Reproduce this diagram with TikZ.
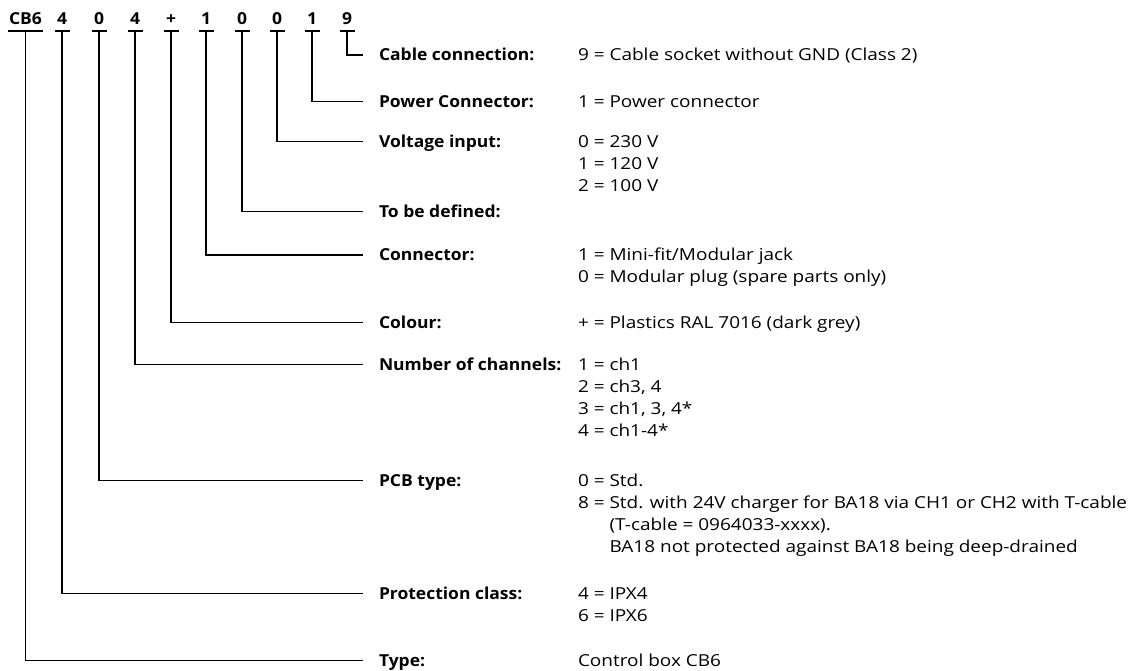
\documentclass[tikz,border=0pt]{standalone}
\usepackage{fontspec}
\setmainfont{Open Sans}[FakeStretch=1.15, BoldFeatures={FakeStretch=1.06}]
\usetikzlibrary{calc}
\newcommand{\vlines}[1]{\begin{tabular}[t]{@{}l@{}}#1\end{tabular}}
\begin{document}
\begin{tikzpicture}[x=1pt,y=-1pt,
  every node/.style={inner sep=0pt, outer sep=0pt, font=\fontsize{16.5}{22}\selectfont},
  code/.style={font=\fontsize{16.5}{22}\selectfont\bfseries, anchor=base, minimum width=15pt},
  lab/.style={font=\fontsize{16.5}{22}\selectfont\bfseries, anchor=base west},
  val/.style={anchor=base west},
  conn/.style={line width=1.2pt, black},
  uline/.style={line width=2.2pt, black}]
\useasboundingbox (0,0) rectangle (1136,671);
% code characters
\node[code, minimum width=35pt] (c0) at (25.5,25) {CB6};
\node[code] (c1) at (62,25) {4};
\node[code] (c2) at (99,25) {0};
\node[code] (c3) at (135,25) {4};
\node[code] (c4) at (171,25) {+};
\node[code] (c5) at (206,25) {1};
\node[code] (c6) at (242,25) {0};
\node[code] (c7) at (277,25) {0};
\node[code] (c8) at (312,25) {1};
\node[code] (c9) at (347,25) {9};
\foreach \i in {0,...,9}{
  \draw[uline] ($(c\i.base west)+(0,6)$) -- ($(c\i.base east)+(0,6)$);
  \coordinate (u\i) at ($(c\i.base)+(0,6)$);
}
% labels
\node[lab] (l9) at (379,61) {Cable connection:};
\node[lab] (l8) at (379,107.5) {Power Connector:};
\node[lab] (l7) at (379,147.7) {Voltage input:};
\node[lab] (l6) at (379,217.7) {To be defined:};
\node[lab] (l5) at (379,261) {Connector:};
\node[lab] (l4) at (379,328.7) {Colour:};
\node[lab] (l3) at (379,370.5) {Number of channels:};
\node[lab] (l2) at (379,486.5) {PCB type:};
\node[lab] (l1) at (379,599.5) {Protection class:};
\node[lab] (l0) at (379,666.3) {Type:};
% values
\node[val] (v9) at (578,61) {9 = Cable socket without GND (Class 2)};
\node[val] (v8) at (578,107.5) {1 = Power connector};
\node[val] (v7) at (578,147.7) {\vlines{0 = 230 V\\1 = 120 V\\2 = 100 V}};
\node[val] (v5) at (578,261) {\vlines{1 = Mini-fit/Modular jack\\0 = Modular plug (spare parts only)}};
\node[val] (v4) at (578,328.7) {+ = Plastics RAL 7016 (dark grey)};
\node[val] (v3) at (578,370.5) {\vlines{1 = ch1\\2 = ch3, 4\\3 = ch1, 3, 4*\\4 = ch1-4*}};
\node[val] (v2) at (578,486.5) {\vlines{0 = Std.\\8 = Std. with 24V charger for BA18 via CH1 or CH2 with T-cable\\\phantom{8 = }(T-cable = 0964033-xxxx).\\\phantom{8 = }BA18 not protected against BA18 being deep-drained}};
\node[val] (v1) at (578,599.5) {\vlines{4 = IPX4\\6 = IPX6}};
\node[val] (v0) at (578,666.3) {Control box CB6};
% connectors
\foreach \i/\yy in {9/55,8/101.5,7/141.7,6/211.7,5/255,4/322.7,3/364.5,2/480.5,1/593.5,0/660.3}{
  \coordinate (e\i) at (363,\yy);
  \draw[conn] (u\i) |- (e\i);
}
\end{tikzpicture}
\end{document}
